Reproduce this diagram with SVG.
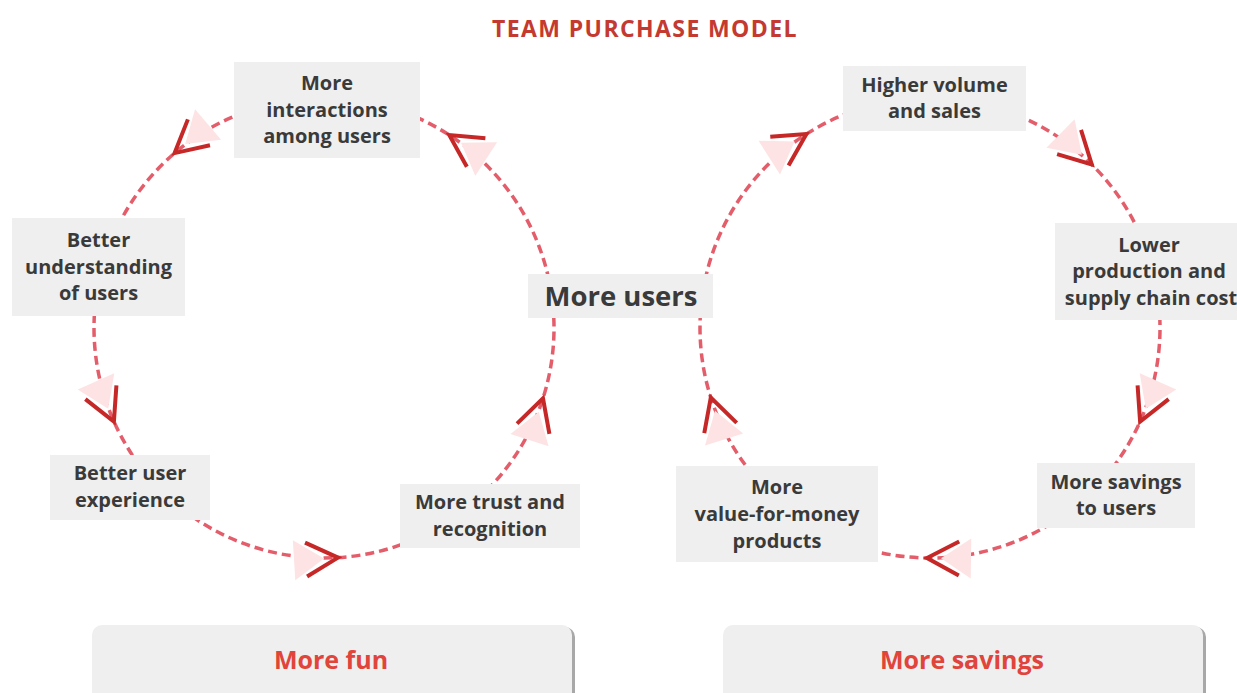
<svg xmlns="http://www.w3.org/2000/svg" width="1237" height="693" viewBox="0 0 1237 693">
<style>
.box{fill:#efefef}
.t{font-family:"Open Sans","Liberation Sans",sans-serif;font-weight:bold;font-size:20px;fill:#3a3a3a;text-anchor:middle}
.big{font-size:27.5px}
.red{fill:#e0443a;font-size:25px}
.title{font-family:"Open Sans","Liberation Sans",sans-serif;font-weight:bold;font-size:23px;letter-spacing:1.4px;fill:#c43a30;text-anchor:middle}
.c{fill:none;stroke:#e35d6a;stroke-width:3.5;stroke-dasharray:9 5;marker-mid:url(#arr)}
</style>
<defs>
<marker id="arr" viewBox="-50 -26 56 52" refX="0" refY="0" markerWidth="56" markerHeight="52" markerUnits="userSpaceOnUse" orient="auto" overflow="visible">
<polygon points="-14,0 -44,-20 -44,20" fill="#fde3e3"/>
<polyline points="-32,-17 0,0 -32,17" fill="none" stroke="#c62828" stroke-width="4"/>
</marker>
</defs>
<rect width="1237" height="693" fill="#fff"/>
<text class="title" x="645" y="37">TEAM PURCHASE MODEL</text>
<g id="connectors">
<path class="c" d="M549,280.2 A230,230 0 0 0 449.3,135.1 A230,230 0 0 0 410.2,114.7"/>
<path class="c" d="M245.3,111.9 A230,230 0 0 0 174.6,153.1 A230,230 0 0 0 115.6,230.8"/>
<path class="c" d="M95.7,300 A230,230 0 0 0 113.9,421.5 A230,230 0 0 0 147.8,475.8"/>
<path class="c" d="M192.1,516.4 A230,230 0 0 0 338,557.6 A230,230 0 0 0 439,527.2"/>
<path class="c" d="M486.6,490.6 A230,230 0 0 0 543,398.3 A230,230 0 0 0 553.7,316"/>
<path class="c" d="M700.9,308 A230,230 0 0 1 806.4,134 A230,230 0 0 1 870.5,105.8"/>
<path class="c" d="M989.5,105.8 A230,230 0 0 1 1091.8,164.5 A230,230 0 0 1 1146.1,249.3"/>
<path class="c" d="M1159.7,316 A230,230 0 0 1 1140.1,421.5 A230,230 0 0 1 1092.6,490.6"/>
<path class="c" d="M1051.9,523 A230,230 0 0 1 927,558 A230,230 0 0 1 843.8,541.3"/>
<path class="c" d="M753.8,475.8 A230,230 0 0 1 710.8,397.5 A230,230 0 0 1 700.3,316"/>
</g>
<g id="n-interactions"><rect class="box" x="234" y="62" width="186" height="96"/>
<text class="t" x="327" y="90">More</text><text class="t" x="327" y="117">interactions</text><text class="t" x="327" y="143">among users</text></g>
<g id="n-understanding"><rect class="box" x="12" y="218" width="173" height="98"/>
<text class="t" x="98.5" y="247">Better</text><text class="t" x="98.5" y="274">understanding</text><text class="t" x="98.5" y="300">of users</text></g>
<g id="n-experience"><rect class="box" x="50" y="455" width="160" height="65"/>
<text class="t" x="130" y="480">Better user</text><text class="t" x="130" y="507">experience</text></g>
<g id="n-trust"><rect class="box" x="400" y="484" width="180" height="64"/>
<text class="t" x="490" y="509">More trust and</text><text class="t" x="490" y="536">recognition</text></g>
<g id="n-users"><rect class="box" x="528" y="274" width="185" height="44"/>
<text class="t big" x="621" y="306">More users</text></g>
<g id="n-volume"><rect class="box" x="843" y="66" width="183" height="65"/>
<text class="t" x="934.5" y="92">Higher volume</text><text class="t" x="934.5" y="118">and sales</text></g>
<g id="n-cost"><rect class="box" x="1055" y="223" width="182" height="97"/>
<text class="t" x="1149" y="252">Lower</text><text class="t" x="1149" y="278">production and</text><text class="t" x="1151" y="305">supply chain cost</text></g>
<g id="n-savings"><rect class="box" x="1037" y="463" width="158" height="65"/>
<text class="t" x="1116" y="489">More savings</text><text class="t" x="1116" y="515">to users</text></g>
<g id="n-value"><rect class="box" x="676" y="466" width="202" height="96"/>
<text class="t" x="777" y="494">More</text><text class="t" x="777" y="521">value-for-money</text><text class="t" x="777" y="548">products</text></g>
<g id="n-fun"><rect x="95" y="627" width="480" height="80" rx="10" fill="#a8a8a8"/><rect class="box" x="92" y="625" width="480" height="80" rx="10"/>
<text class="t red" x="331" y="669">More fun</text></g>
<g id="n-moresavings"><rect x="726" y="627" width="480" height="80" rx="10" fill="#a8a8a8"/><rect class="box" x="723" y="625" width="480" height="80" rx="10"/>
<text class="t red" x="962" y="669">More savings</text></g>
</svg>
